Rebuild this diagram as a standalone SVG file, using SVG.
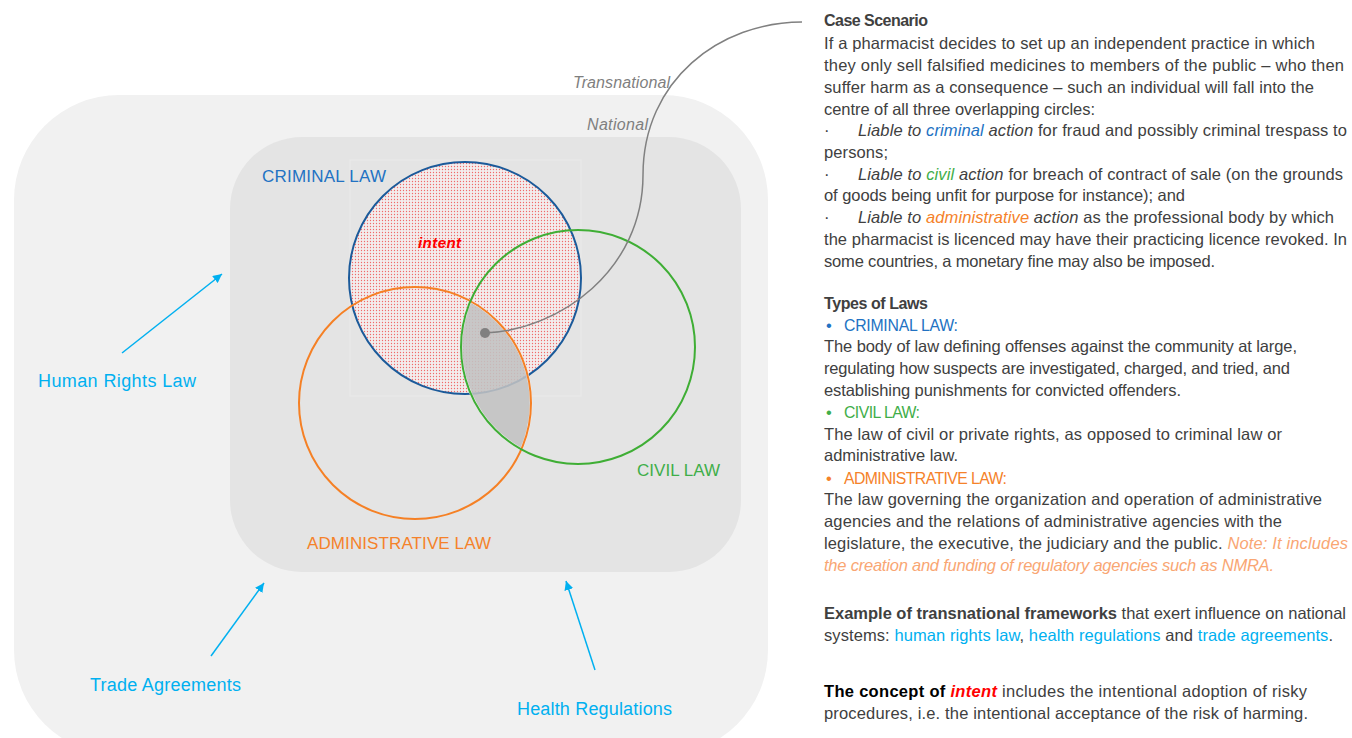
<svg xmlns="http://www.w3.org/2000/svg" width="1352" height="738" viewBox="0 0 1352 738">
<style>
text{font-family:"Liberation Sans",Arial,sans-serif}
.p{font-size:16.5px;fill:#404040}
.h{font-size:16px;font-weight:bold;fill:#404040}
.t{font-size:15.8px}
.b{font-weight:bold}
.i{font-style:italic}
.blue{fill:#2272c3}
.green{fill:#3fae49}
.orange{fill:#f5822a}
.note{fill:#f9a673;font-style:italic}
.cyan{fill:#00b0f0}
.lbl{font-size:17px}
.tl{font-size:18px;fill:#00b0f0}
.scope{font-size:16px;font-style:italic;fill:#7f7f7f}
.arrow{stroke:#00b0f0;stroke-width:1.5;fill:none;marker-end:url(#arr)}
</style>
<defs>
<pattern id="dots" width="3" height="3" patternUnits="userSpaceOnUse">
<rect width="3" height="3" fill="#f3eded"/>
<circle cx="1.5" cy="1.5" r="0.65" fill="#f06a6a"/>
</pattern>
<marker id="arr" viewBox="0 0 10 10" refX="10" refY="5" markerWidth="6" markerHeight="6" orient="auto" markerUnits="strokeWidth">
<path d="M0,0 L10,5 L0,10 z" fill="#00b0f0"/>
</marker>
</defs>
<rect width="1352" height="738" fill="#ffffff"/>

<g id="transnational">
<rect x="14" y="95" width="754" height="660" rx="105" ry="105" fill="#f1f1f1"/>
<text class="scope" x="573" y="88" textLength="97">Transnational</text>
</g>
<g id="national">
<rect x="230" y="137" width="511" height="435" rx="72" ry="72" fill="#e4e4e4"/>
<text class="scope" x="587" y="130" textLength="61">National</text>
<rect x="350" y="160" width="231" height="236" fill="none" stroke="#eaeaea" stroke-width="1"/>
</g>

<g id="criminal-law">
<circle cx="465" cy="278" r="116" fill="url(#dots)" stroke="#1b5a9a" stroke-width="2"/>
<text class="lbl blue" x="262" y="182" textLength="124">CRIMINAL LAW</text>
<text x="418" y="248" font-size="15" font-weight="bold" font-style="italic" fill="#ff0000" textLength="43">intent</text>
</g>

<g id="overlap">
<path d="M470.4 301.1 A117 117 0 0 0 521.4 449.3 A116 116 0 0 0 470.4 301.1 Z" fill="#c2c2c2" fill-opacity="0.88" stroke="#f4f4f4" stroke-width="2.5"/>
</g>

<g id="administrative-law">
<circle cx="415" cy="403" r="116" fill="none" stroke="#f58025" stroke-width="2"/>
<text class="lbl orange" x="307" y="549" textLength="184">ADMINISTRATIVE LAW</text>
</g>

<g id="civil-law">
<circle cx="578" cy="347" r="117" fill="none" stroke="#3fae35" stroke-width="2"/>
<text class="lbl green" x="637" y="476" textLength="83">CIVIL LAW</text>
</g>

<g id="human-rights">
<text class="tl" x="38" y="387" textLength="158">Human Rights  Law</text>
</g>
<g id="trade">
<text class="tl" x="90" y="691" textLength="151">Trade Agreements</text>
</g>
<g id="health">
<text class="tl" x="517" y="715" textLength="155">Health Regulations</text>
</g>

<g id="connectors">
<line class="arrow" x1="122" y1="353" x2="222" y2="274"/>
<line class="arrow" x1="211" y1="656" x2="264" y2="583"/>
<line class="arrow" x1="595" y1="670" x2="566" y2="581"/>
<path d="M485 333 C560 330 643 270 643 175 C643 80 720 22 802 22" fill="none" stroke="#808080" stroke-width="1.5"/>
<circle cx="485" cy="333" r="5" fill="#808080"/>
</g>

<g id="case-scenario">
<text class="h" x="824" y="26" textLength="104">Case Scenario</text>
<text class="p" x="824" y="49" textLength="491">If a pharmacist decides to set up an independent practice in which</text>
<text class="p" x="824" y="71" textLength="520">they only sell falsified medicines to members of the public – who then</text>
<text class="p" x="824" y="93" textLength="490">suffer harm as a consequence – such an individual will fall into the</text>
<text class="p" x="824" y="115" textLength="271">centre of all three overlapping circles:</text>
<text class="p" x="824" y="136">·</text>
<text class="p" x="858" y="136" textLength="489"><tspan class="i">Liable to </tspan><tspan class="i blue">criminal</tspan><tspan class="i"> action</tspan> for fraud and possibly criminal trespass to</text>
<text class="p" x="824" y="158" textLength="64">persons;</text>
<text class="p" x="824" y="180">·</text>
<text class="p" x="858" y="180" textLength="485"><tspan class="i">Liable to </tspan><tspan class="i green">civil</tspan><tspan class="i"> action</tspan> for breach of contract of sale (on the grounds</text>
<text class="p" x="824" y="201" textLength="361">of goods being unfit for purpose for instance); and</text>
<text class="p" x="824" y="223">·</text>
<text class="p" x="858" y="223" textLength="476"><tspan class="i">Liable to </tspan><tspan class="i orange">administrative</tspan><tspan class="i"> action</tspan> as the professional body by which</text>
<text class="p" x="824" y="245" textLength="523">the pharmacist is licenced may have their practicing licence revoked. In</text>
<text class="p" x="824" y="267" textLength="391">some countries, a monetary fine may also be imposed.</text>
</g>

<g id="types-of-laws">
<text class="h" x="824" y="309" textLength="104">Types of Laws</text>
<text class="p blue" x="826" y="331">•</text>
<text class="t blue" x="844" y="331" textLength="114">CRIMINAL LAW:</text>
<text class="p" x="824" y="352" textLength="473">The body of law defining offenses against the community at large,</text>
<text class="p" x="824" y="374" textLength="466">regulating how suspects are investigated, charged, and tried, and</text>
<text class="p" x="824" y="396" textLength="357">establishing punishments for convicted offenders.</text>
<text class="p green" x="826" y="418">•</text>
<text class="t green" x="844" y="418" textLength="76">CIVIL LAW:</text>
<text class="p" x="824" y="440" textLength="458">The law of civil or private rights, as opposed to criminal law or</text>
<text class="p" x="824" y="461" textLength="134">administrative law.</text>
<text class="p orange" x="826" y="484">•</text>
<text class="t orange" x="844" y="484" textLength="163">ADMINISTRATIVE LAW:</text>
<text class="p" x="824" y="505" textLength="498">The law governing the organization and operation of administrative</text>
<text class="p" x="824" y="527" textLength="458">agencies and the relations of administrative agencies with the</text>
<text class="p" x="824" y="549" textLength="524">legislature, the executive, the judiciary and the public. <tspan class="note">Note: It includes</tspan></text>
<text class="p note" x="824" y="571" textLength="450">the creation and funding of regulatory agencies such as NMRA.</text>
</g>

<g id="examples">
<text class="p" x="824" y="619" textLength="522"><tspan class="b">Example of transnational frameworks</tspan> that exert influence on national</text>
<text class="p" x="824" y="641" textLength="509">systems: <tspan class="cyan">human rights law</tspan>, <tspan class="cyan">health regulations</tspan> and <tspan class="cyan">trade agreements</tspan>.</text>
</g>

<g id="intent-concept">
<text class="p" x="824" y="697" textLength="483"><tspan class="b" fill="#000000">The concept of </tspan><tspan class="b i" fill="#ff0000">intent</tspan> includes the intentional adoption of risky</text>
<text class="p" x="824" y="719" textLength="484">procedures, i.e. the intentional acceptance of the risk of harming.</text>
</g>
</svg>
